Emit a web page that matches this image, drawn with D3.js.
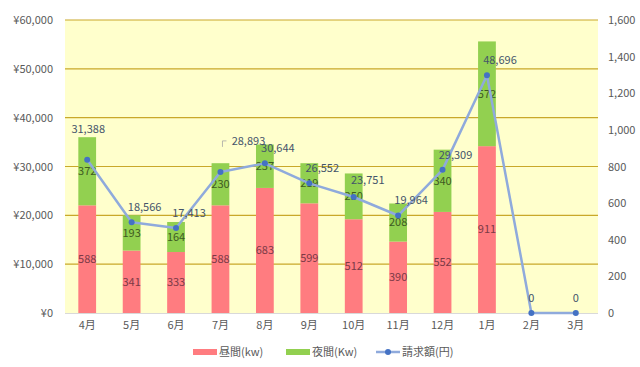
<!DOCTYPE html>
<html><head><meta charset="utf-8">
<script src="https://cdn.jsdelivr.net/npm/d3@7"></script>
<style>
body{margin:0;background:#fff;}
text{font-family:"Noto Sans CJK JP","Noto Sans",sans-serif;}
</style></head>
<body><svg id="c" width="640" height="367"></svg>
<script>
const months = ["4月","5月","6月","7月","8月","9月","10月","11月","12月","1月","2月","3月"];
const dayKw = [588,341,333,588,683,599,512,390,552,911,0,0];
const nightKw = [372,193,164,230,237,219,250,208,340,572,0,0];
const billing = [31388,18566,17413,28893,30644,26552,23751,19964,29309,48696,0,0];
const leftTicks = [0,10000,20000,30000,40000,50000,60000];
const rightTicks = [0,200,400,600,800,1000,1200,1400,1600];

const svg = d3.select("#c");
const L=65,R=598,T=20,B=313;
const x = d3.scaleBand().domain(months).range([L,R]).paddingInner(0.6).paddingOuter(0.3);
const yL = d3.scaleLinear().domain([0,60000]).range([B,T]);
const yR = d3.scaleLinear().domain([0,1600]).range([B,T]);

svg.append("rect").attr("x",L).attr("y",T).attr("width",R-L).attr("height",B-T).attr("fill","#FFFFCC");

// gridlines
svg.append("g").selectAll("line").data(leftTicks.filter(d=>d>0)).join("line")
 .attr("x1",L).attr("x2",R).attr("y1",d=>yL(d)).attr("y2",d=>yL(d))
 .attr("stroke","#C9A82A").attr("stroke-width",1.2);
svg.append("line").attr("x1",L).attr("x2",R).attr("y1",B+0.5).attr("y2",B+0.5).attr("stroke","#D9D9D9");

// left axis
const axL = d3.axisLeft(yL).tickValues(leftTicks).tickSize(0).tickPadding(12)
 .tickFormat(d=>"¥"+d3.format(",")(d));
const gL = svg.append("g").attr("transform",`translate(${L},0)`).call(axL);
gL.select(".domain").remove();
gL.selectAll("text").attr("fill","#595959").style("font-size","11px");

const axR = d3.axisRight(yR).tickValues(rightTicks).tickSize(0).tickPadding(10)
 .tickFormat(d3.format(","));
const gR = svg.append("g").attr("transform",`translate(${R},0)`).call(axR);
gR.select(".domain").remove();
gR.selectAll("text").attr("fill","#595959").style("font-size","11px");

const axB = d3.axisBottom(x).tickSize(0).tickPadding(8);
const gB = svg.append("g").attr("transform",`translate(0,${B})`).call(axB);
gB.select(".domain").remove();
gB.selectAll("text").attr("fill","#595959").style("font-size","11px");

// bars
const bw = x.bandwidth();
svg.append("g").selectAll("rect").data(months).join("rect")
 .attr("x",d=>x(d)).attr("width",bw)
 .attr("y",(d,i)=>yR(dayKw[i])).attr("height",(d,i)=>B-yR(dayKw[i]))
 .attr("fill","#FF7C80");
svg.append("g").selectAll("rect").data(months).join("rect")
 .attr("x",d=>x(d)).attr("width",bw)
 .attr("y",(d,i)=>yR(dayKw[i]+nightKw[i])).attr("height",(d,i)=>yR(dayKw[i])-yR(dayKw[i]+nightKw[i]))
 .attr("fill","#92D050");

// bar labels
svg.append("g").selectAll("text").data(months.filter((d,i)=>dayKw[i]>0)).join("text")
 .attr("x",d=>x(d)+bw/2).attr("y",d=>{const i=months.indexOf(d);return (yR(dayKw[i])+B)/2;})
 .attr("dy","0.35em").attr("text-anchor","middle").attr("fill","#7B3A46").style("font-size","11px")
 .text(d=>dayKw[months.indexOf(d)]);
svg.append("g").selectAll("text").data(months.filter((d,i)=>nightKw[i]>0)).join("text")
 .attr("x",d=>x(d)+bw/2).attr("y",d=>{const i=months.indexOf(d);return (yR(dayKw[i])+yR(dayKw[i]+nightKw[i]))/2;})
 .attr("dy","0.35em").attr("text-anchor","middle").attr("fill","#3E5A22").style("font-size","11px")
 .text(d=>nightKw[months.indexOf(d)]);

// line
const cx = d=>x(d)+bw/2;
const line = d3.line().x((d,i)=>cx(months[i])).y(d=>yL(d));
svg.append("path").datum(billing).attr("d",line).attr("fill","none")
 .attr("stroke","#8FAADC").attr("stroke-width",2.5).attr("stroke-linejoin","round");
svg.append("g").selectAll("circle").data(billing).join("circle")
 .attr("cx",(d,i)=>cx(months[i])).attr("cy",d=>yL(d)).attr("r",3).attr("fill","#4472C4");

// line labels
const lab = svg.append("g");
billing.forEach((v,i)=>{
  let dx=13, dy=-15;
  if(i===0){dx=1;dy=-31;}
  if(i===3){dx=28;dy=-31;}
  if(i===6){dx=14;dy=-17;}
  if(v===0){dx=0;dy=-15;}
  const px=cx(months[i]), py=yL(v);
  if(i===3){
    lab.append("path").attr("d",`M${px+2},${py-25} L${px+2},${py-31} L${px+6},${py-31}`).attr("fill","none").attr("stroke","#A6A6A6").attr("stroke-width",0.8);
  }
  lab.append("text").attr("x",px+dx).attr("y",py+dy).attr("dy","0.35em").attr("text-anchor","middle")
   .attr("fill","#44546A").style("font-size","11px").text(d3.format(",")(v));
});

// legend
const lg = svg.append("g").attr("transform","translate(0,352)");
lg.append("rect").attr("x",193).attr("y",-3).attr("width",24).attr("height",6).attr("fill","#FF7C80");
lg.append("text").attr("x",219).attr("y",0).attr("dy","0.35em").attr("fill","#595959").style("font-size","11px").text("昼間(kw)");
lg.append("rect").attr("x",286).attr("y",-3).attr("width",24).attr("height",6).attr("fill","#92D050");
lg.append("text").attr("x",312).attr("y",0).attr("dy","0.35em").attr("fill","#595959").style("font-size","11px").text("夜間(Kw)");
lg.append("line").attr("x1",376).attr("x2",400).attr("y1",0).attr("y2",0).attr("stroke","#8FAADC").attr("stroke-width",2.5);
lg.append("circle").attr("cx",388).attr("cy",0).attr("r",3).attr("fill","#4472C4");
lg.append("text").attr("x",402).attr("y",0).attr("dy","0.35em").attr("fill","#595959").style("font-size","11px").text("請求額(円)");
</script></body></html>
